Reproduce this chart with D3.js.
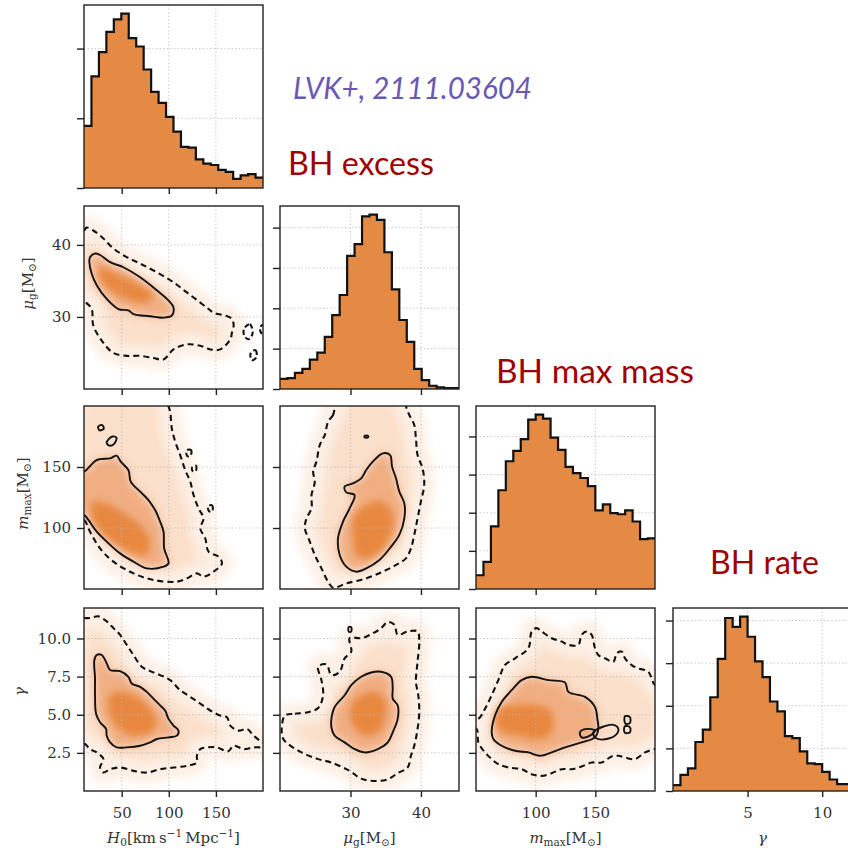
<!DOCTYPE html>
<html>
<head>
<meta charset="utf-8">
<script src="https://cdn.jsdelivr.net/npm/d3@7"></script>
<style>
body { margin: 0; background: #fff; }
svg { display: block; }
.tick text { font-family: "DejaVu Serif", serif; font-size: 15px; fill: #333; }
.tick line { stroke: #222; stroke-width: 1.4; }
.lbl { font-family: "DejaVu Serif", serif; font-size: 15px; fill: #333; }
</style>
</head>
<body>
<svg id="chart" width="848" height="848"></svg>
<script>
// axis ranges of the four parameters
var rangeH0 = [10, 200], rangeMu = [20, 45.4], rangeMmax = [50, 200], rangeGam = [0, 12];
var ticksH0 = [50, 100, 150], ticksMu = [30, 40], ticksMmax = [100, 150];
var ticksGamX = [5, 10], ticksGamY = [2.5, 5, 7.5, 10];

// 1D histograms, 24 bins over each range
var histH0 = [0.89,1.60,1.95,2.24,2.42,2.50,2.15,2.03,1.70,1.38,1.22,1.02,0.81,0.59,0.58,0.41,0.35,0.33,0.26,0.23,0.13,0.18,0.20,0.15];
var histMu = [0.25,0.27,0.40,0.50,0.73,0.90,1.29,1.83,2.33,3.30,3.59,4.28,4.32,4.19,3.39,2.47,1.71,1.17,0.50,0.22,0.08,0.04,0.02,0.02];
var histMmax = [0.36,0.71,1.64,2.59,3.35,3.62,3.93,4.44,4.57,4.47,3.97,3.65,3.20,3.04,2.91,2.70,2.06,2.22,1.99,1.96,2.06,1.77,1.31,1.33];
var histGam = [0.14,0.38,0.53,1.15,1.44,2.20,3.10,4.06,3.85,4.09,3.62,3.04,2.67,2.10,1.87,1.29,1.24,0.93,0.65,0.63,0.45,0.27,0.16,0.16];
var histTicks = [[0, 1, 2], [0, 1, 2, 3, 4], [0, 1, 2, 3, 4], [0, 1, 2, 3, 4]];

// contours in data units: solid = inner level, dash = outer level, core = densest patch
var solidH0Mu = [[16.4,38.3],[21.7,38.8],[27.0,38.6],[37.7,37.6],[51.8,36.9],[69.6,35.5],[87.3,33.7],[99.7,32.3],[105.0,31.3],[103.2,30.2],[94.4,29.9],[80.2,30.1],[62.5,30.4],[57.1,30.9],[46.5,31.1],[34.1,32.5],[23.5,34.4],[18.2,36.0],[15.7,37.6]];
var dashH0Mu = [[4,42.0],[10,42.0],[12.8,42.4],[19.9,42.0],[30.6,40.9],[41.2,39.5],[55.4,38.3],[69.6,37.4],[87.3,36.2],[105,34.8],[119.2,33.4],[133.4,32.0],[142.2,31.1],[147.5,30.6],[165.3,29.9],[168.8,29.0],[167.0,27.8],[165.3,26.9],[154.6,25.5],[144,25.5],[133.4,26.0],[119.2,26.2],[105,25.5],[94.4,24.1],[83.7,24.3],[69.6,24.6],[55.4,24.6],[41.2,25.0],[30.6,26.4],[19.9,28.8],[18.2,31.1],[12.8,31.9],[10,32.0],[4,32.0]];
var coreH0Mu = [[27.0,36.9],[44.7,36.0],[69.6,34.4],[83.7,33.0],[76.6,32.0],[55.4,32.5],[37.7,33.7],[27.0,35.3]];
var dashIslH0Mu = [[[180,28.4],[186,29.0],[189,27.8],[185,26.9],[180,27.4]], [[187,25.0],[192,25.4],[193,24.4],[188,24.0]], [[197,28.6],[203,29.0],[203,27.4],[198,27.8]]];

var solidH0Mmax = [[4,146.2],[10,146.2],[23.5,155.7],[37.7,157.1],[44.7,159.3],[49.0,154.4],[57.1,147.5],[59.6,138.0],[69.6,129.8],[78.4,122.9],[85.5,114.7],[90.8,105.2],[94.4,97.0],[95.1,83.3],[99.7,71.0],[94.4,68.3],[76.6,66.9],[62.5,72.4],[48.3,79.2],[34.1,88.8],[23.5,97.0],[14.6,106.6],[10,110.7],[4,110.7]];
var dashH0Mmax = [[4,106.6],[10,106.6],[16.4,97.0],[27.0,83.3],[41.2,72.4],[62.5,62.8],[83.7,57.4],[108.6,56.0],[119.2,58.7],[129.8,62.8],[136.9,60.1],[147.5,64.2],[156.4,71.0],[152.8,76.5],[142.2,80.6],[138.7,91.5],[133.4,99.7],[136.9,107.9],[131.6,116.1],[126.3,127.0],[122.8,138.0],[117.4,147.5],[112.1,159.8],[106.8,170.8],[103.2,181.7],[101.5,195.3],[99.7,200],[99,208],[4,208]];
var coreH0Mmax = [[19.9,121.6],[37.7,118.8],[55.4,110.7],[73.1,99.7],[80.2,88.8],[76.6,77.9],[62.5,79.2],[44.7,86.1],[27.0,97.0],[18.2,107.9]];
var solidIslH0Mmax = [[[25,183],[29,184.5],[31,181.5],[26.5,180]], [[34,170],[40,175],[44.5,174],[42,169],[37,167.5]]];
var dashIslH0Mmax = [[[119,163.5],[123.5,164],[123,159],[119.5,159]], [[125,150],[129,151],[128.5,146.5],[125,147]], [[142,118],[146,118.5],[146,113.5],[142.5,114]]];

var solidMuMmax = [[28.47,77.9],[28.23,91.5],[28.94,105.2],[29.88,116.1],[30.58,127.0],[29.41,129.2],[29.17,133.9],[30.35,136.6],[31.52,140.7],[32.23,147.5],[33.17,154.4],[34.58,161.2],[35.62,159.8],[35.90,150.3],[36.46,140.7],[36.93,129.8],[37.64,120.2],[37.64,107.9],[36.93,94.3],[35.76,84.7],[34.11,73.8],[32.23,66.9],[30.82,64.2],[29.41,68.3]];
var dashMuMmax = [[27.76,200],[27.53,192.6],[26.82,187.1],[26.35,176.2],[25.64,168.0],[25.17,154.4],[24.70,146.2],[24.94,138.0],[24.47,127.0],[24.47,116.1],[23.76,107.9],[23.53,99.7],[24.23,88.8],[24.94,77.9],[25.88,66.9],[26.82,56.0],[27.53,51.1],[29.41,54.6],[32.23,58.7],[34.58,64.2],[36.46,69.7],[37.87,75.1],[38.58,83.3],[39.05,94.3],[39.52,107.9],[39.99,121.6],[40.46,135.2],[40.23,148.9],[39.52,159.8],[39.29,173.5],[39.05,184.4],[38.35,192.6],[37.88,200],[37.9,208],[27.7,208]];
var coreMuMmax = [[30.35,107.9],[32.23,118.8],[34.58,121.6],[35.99,110.7],[35.76,94.3],[34.11,80.6],[32.23,75.1],[30.82,77.9],[30.35,91.5]];
var solidIslMuMmax = [[[32.0,175.5],[32.5,175.5],[32.5,174.3],[32.0,174.3]]];

var solidH0Gam = [[23.5,8.92],[28.8,8.92],[34.1,8.37],[37.7,7.93],[48.3,7.86],[57.1,7.49],[60.7,7.05],[69.6,6.83],[76.6,6.50],[83.7,6.06],[90.8,5.62],[96.1,5.28],[99.7,4.73],[105.0,4.29],[110.3,3.96],[108.6,3.63],[99.7,3.52],[87.3,3.41],[80.2,3.19],[69.6,2.97],[55.4,2.86],[44.7,2.86],[37.7,3.19],[34.1,3.63],[33.4,4.07],[27.0,4.51],[22.8,5.07],[21.7,6.28],[21.7,7.38],[21.0,8.59]];
var dashH0Gam = [[4,11.34],[10,11.34],[16.4,11.34],[25.2,11.45],[34.1,11.12],[41.2,10.68],[48.3,10.24],[55.4,9.58],[62.5,8.92],[71.3,8.15],[80.2,7.86],[90.8,7.60],[101.5,7.27],[112.1,6.61],[122.8,6.17],[133.4,5.73],[144.0,5.28],[154.6,4.95],[161.7,4.84],[165.3,4.29],[174.1,3.96],[183.0,4.07],[190.1,3.63],[200,3.19],[206,3.19],[206,2.86],[200,2.86],[190.1,2.86],[179.5,2.75],[168.8,2.97],[163,2.6],[151.1,2.86],[140.4,2.86],[133.4,2.75],[129.8,2.31],[129.8,1.87],[119.2,1.65],[105.0,1.54],[90.8,1.43],[76.6,1.21],[62.5,1.32],[48.3,1.54],[37.7,1.43],[30.6,1.21],[27.0,1.54],[30.6,2.09],[23.5,2.53],[16.4,2.75],[11.1,3.08],[10,3.08],[4,3.08]];
var coreH0Gam = [[37.7,6.28],[51.8,6.50],[66.0,6.17],[80.2,5.39],[87.3,4.51],[80.2,3.85],[66.0,3.63],[51.8,3.85],[41.2,4.51],[35.9,5.39]];

var solidMuGam = [[27.29,4.73],[27.76,5.51],[29.17,6.28],[30.11,6.94],[31.52,7.49],[32.94,7.77],[34.35,7.82],[35.76,7.49],[35.99,6.72],[35.99,6.06],[36.70,5.62],[36.70,4.73],[35.99,3.85],[35.29,3.19],[33.88,2.75],[32.0,2.53],[30.58,2.75],[29.17,3.19],[27.76,3.63],[27.29,4.18]];
var dashMuGam = [[20.71,4.95],[22.12,5.06],[24.0,5.17],[25.41,5.44],[26.12,6.28],[25.88,7.27],[25.41,8.15],[26.59,8.30],[27.29,7.60],[28.47,7.82],[29.17,8.70],[30.11,9.14],[29.88,10.02],[31.52,10.02],[32.94,10.28],[34.35,10.68],[35.29,11.08],[36.23,10.90],[36.70,10.24],[38.11,10.46],[39.52,10.46],[39.76,9.80],[39.52,8.48],[39.29,7.16],[39.62,6.28],[39.76,5.17],[39.52,4.07],[39.05,2.97],[38.58,2.31],[38.11,1.54],[36.70,1.17],[35.29,0.77],[33.41,0.66],[31.52,0.81],[29.88,1.32],[27.29,1.87],[25.41,2.09],[23.06,2.53],[21.18,3.08],[20.47,3.41],[20.24,4.07]];
var coreMuGam = [[30.11,5.62],[31.52,6.28],[33.41,6.50],[34.82,6.06],[35.05,5.17],[34.35,4.07],[32.94,3.63],[31.52,3.74],[30.35,4.29],[29.88,4.95]];
var solidIslMuGam = [[[29.75,10.75],[30.1,10.75],[30.1,10.45],[29.75,10.45]]];

var solidMmaxGam = [[63.13,3.85],[65.92,4.95],[71.51,5.84],[79.89,6.61],[88.26,7.27],[96.64,7.49],[110.6,7.27],[124.6,7.11],[127.4,6.50],[141.3,6.17],[149.7,5.51],[151.7,4.73],[152.5,4.07],[149.7,3.52],[138.5,3.19],[124.6,2.86],[113.4,2.53],[103.6,2.31],[93.85,2.53],[82.68,2.64],[71.51,2.97],[64.52,3.41]];
var dashMmaxGam = [[45,4.73],[51.96,4.73],[57.54,5.39],[63.13,6.28],[68.71,7.27],[74.30,8.26],[82.68,8.70],[93.85,9.36],[96.64,10.46],[100.8,10.68],[105.0,10.46],[113.4,10.02],[121.8,9.80],[127.4,9.58],[135.7,9.58],[138.5,10.24],[142.7,10.46],[146.9,10.24],[149.7,9.36],[152.5,8.92],[158.1,8.70],[165.1,8.48],[167.9,9.03],[172.1,9.14],[174.9,8.70],[180.4,8.26],[186.0,8.04],[194.4,7.82],[200,6.94],[206,6.94],[206,2.75],[200,2.75],[191.6,2.53],[183.2,2.09],[174.9,2.20],[169.3,2.31],[163.7,2.27],[155.3,1.87],[146.9,1.87],[138.5,1.61],[130.2,1.43],[121.8,1.43],[113.4,1.17],[105.0,0.99],[96.64,1.10],[88.26,1.43],[77.09,1.54],[68.71,1.76],[63.13,2.09],[57.54,2.53],[51.96,3.19],[50.56,4.07],[45,4.07]];
var coreMmaxGam = [[68.71,5.39],[82.68,5.62],[102.2,5.62],[113.4,5.17],[113.4,3.85],[105.0,3.41],[85.47,3.63],[71.51,3.85],[65.92,4.51]];
var solidIslMmaxGam = [[[148.3,3.85],[155.3,4.18],[165.1,4.34],[169.3,4.07],[166.5,3.63],[155.3,3.37],[149.7,3.52]], [[137.1,3.85],[142.7,4.07],[149.7,3.96],[145.5,3.63],[138.5,3.52]], [[174.9,4.91],[179.0,4.84],[179.0,4.47],[175.5,4.40],[174.3,4.69]], [[174.9,4.25],[179.0,4.18],[179.0,3.85],[174.9,3.81],[174.0,4.03]]];

// layout
var colX = [84, 280, 476, 673], rowY = [5, 206, 406, 608], W = 179, H = 183;
var orange = "#e48a45";

var ranges = [rangeH0, rangeMu, rangeMmax, rangeGam];
var hists = [histH0, histMu, histMmax, histGam];
var xTicks = [ticksH0, ticksMu, ticksMmax, ticksGamX];
var yTicks = [ticksH0, ticksMu, ticksMmax, ticksGamY];
var yFormats = [null, d3.format("d"), d3.format("d"), d3.format(".1f")];

var pairs = [
  {j: 0, i: 1, solid: solidH0Mu, dash: dashH0Mu, core: coreH0Mu, sIsl: [], dIsl: dashIslH0Mu},
  {j: 0, i: 2, solid: solidH0Mmax, dash: dashH0Mmax, core: coreH0Mmax, sIsl: solidIslH0Mmax, dIsl: dashIslH0Mmax},
  {j: 1, i: 2, solid: solidMuMmax, dash: dashMuMmax, core: coreMuMmax, sIsl: solidIslMuMmax, dIsl: []},
  {j: 0, i: 3, solid: solidH0Gam, dash: dashH0Gam, core: coreH0Gam, sIsl: [], dIsl: []},
  {j: 1, i: 3, solid: solidMuGam, dash: dashMuGam, core: coreMuGam, sIsl: solidIslMuGam, dIsl: []},
  {j: 2, i: 3, solid: solidMmaxGam, dash: dashMmaxGam, core: coreMmaxGam, sIsl: solidIslMmaxGam, dIsl: []}
];

var svg = d3.select("#chart");
var defs = svg.append("defs");
defs.append("filter").attr("id", "soft").attr("x", "-30%").attr("y", "-30%").attr("width", "160%").attr("height", "160%")
  .append("feGaussianBlur").attr("stdDeviation", 5);
defs.append("filter").attr("id", "soft2").attr("x", "-30%").attr("y", "-30%").attr("width", "160%").attr("height", "160%")
  .append("feGaussianBlur").attr("stdDeviation", 3.5);

function xScale(j) {
  return d3.scaleLinear().domain(ranges[j]).range([colX[j], colX[j] + W]);
}
function yScale(i) {
  return d3.scaleLinear().domain(ranges[i]).range([rowY[i] + H, rowY[i]]);
}

function clipFor(i, j) {
  var id = "clip" + i + j;
  defs.append("clipPath").attr("id", id).append("rect")
    .attr("x", colX[j]).attr("y", rowY[i]).attr("width", W).attr("height", H);
  return "url(#" + id + ")";
}

function grid(g, x, y, xt, yt, i, j) {
  g.selectAll(".gv").data(xt).enter().append("line")
    .attr("x1", d => x(d)).attr("x2", d => x(d)).attr("y1", rowY[i]).attr("y2", rowY[i] + H)
    .attr("stroke", "#b8b8b8").attr("stroke-width", 0.9).attr("stroke-dasharray", "1.2,2.4");
  g.selectAll(".gh").data(yt).enter().append("line")
    .attr("y1", d => y(d)).attr("y2", d => y(d)).attr("x1", colX[j]).attr("x2", colX[j] + W)
    .attr("stroke", "#b8b8b8").attr("stroke-width", 0.9).attr("stroke-dasharray", "1.2,2.4");
}

function axes(i, j, x, y, yt, yFmt) {
  var gx = svg.append("g").attr("transform", "translate(0," + (rowY[i] + H) + ")")
    .call(d3.axisBottom(x).tickValues(xTicks[j]).tickSize(6).tickPadding(10)
      .tickFormat(i === 3 ? d3.format("d") : ""));
  gx.select(".domain").remove();
  var gy = svg.append("g").attr("transform", "translate(" + colX[j] + ",0)")
    .call(d3.axisLeft(y).tickValues(yt).tickSize(7).tickPadding(6)
      .tickFormat(j === 0 && yFmt ? yFmt : ""));
  gy.select(".domain").remove();
  svg.append("rect").attr("x", colX[j]).attr("y", rowY[i]).attr("width", W).attr("height", H)
    .attr("fill", "none").attr("stroke", "#222").attr("stroke-width", 1.4);
}

// diagonal histograms
hists.forEach(function (hist, k) {
  var x = xScale(k);
  var top = d3.max(hist) * 1.05;
  var y = d3.scaleLinear().domain([0, top]).range([rowY[k] + H, rowY[k]]);
  var r = ranges[k], step = (r[1] - r[0]) / hist.length;
  var pts = hist.map((v, b) => [r[0] + b * step, v]);
  pts.push([r[1], hist[hist.length - 1]]);
  var g = svg.append("g").attr("clip-path", clipFor(k, k));
  grid(g, x, y, xTicks[k], histTicks[k].slice(1), k, k);
  g.append("path").datum(pts)
    .attr("d", d3.area().curve(d3.curveStepAfter).x(d => x(d[0])).y0(y(0)).y1(d => y(d[1])))
    .attr("fill", orange);
  g.append("path").datum(pts)
    .attr("d", d3.line().curve(d3.curveStepAfter).x(d => x(d[0])).y(d => y(d[1])))
    .attr("fill", "none").attr("stroke", "#111").attr("stroke-width", 2.2);
  axes(k, k, x, y, histTicks[k], null);
});

// 2D panels
pairs.forEach(function (p) {
  var x = xScale(p.j), y = yScale(p.i);
  var loop = d3.line().x(d => x(d[0])).y(d => y(d[1])).curve(d3.curveCatmullRomClosed.alpha(0.5));
  var g = svg.append("g").attr("clip-path", clipFor(p.i, p.j));
  var soft = g.append("g").attr("filter", "url(#soft)");
  soft.append("path").attr("d", loop(p.dash)).attr("fill", "#fbe0cb")
    .attr("stroke", "#fdf0e5").attr("stroke-width", 22).attr("stroke-linejoin", "round");
  soft.append("path").attr("d", loop(p.solid)).attr("fill", "#f1ae82");
  g.append("g").attr("filter", "url(#soft2)")
    .append("path").attr("d", loop(p.core)).attr("fill", "#e8883f");
  grid(g, x, y, xTicks[p.j], yTicks[p.i], p.i, p.j);
  g.append("path").attr("d", loop(p.dash)).attr("fill", "none")
    .attr("stroke", "#111").attr("stroke-width", 2.1).attr("stroke-dasharray", "6,4");
  p.dIsl.forEach(function (isl) {
    g.append("path").attr("d", loop(isl)).attr("fill", "none")
      .attr("stroke", "#111").attr("stroke-width", 2.1).attr("stroke-dasharray", "5,3");
  });
  g.append("path").attr("d", loop(p.solid)).attr("fill", "none")
    .attr("stroke", "#111").attr("stroke-width", 1.9);
  p.sIsl.forEach(function (isl) {
    g.append("path").attr("d", loop(isl)).attr("fill", "none")
      .attr("stroke", "#111").attr("stroke-width", 1.9);
  });
  axes(p.i, p.j, x, y, yTicks[p.i], yFormats[p.i]);
});

// axis labels with sub/superscripts
function label(parts, px, py, rotate) {
  var t = svg.append("text").attr("class", "lbl").attr("text-anchor", "middle")
    .attr("transform", "translate(" + px + "," + py + ")" + (rotate ? " rotate(-90)" : ""));
  parts.forEach(function (s) {
    var ts = t.append("tspan").text(s[0]);
    if (s[1] === "i") ts.attr("font-style", "italic");
    if (s[1] === "sub") ts.attr("font-size", "10.5px").attr("baseline-shift", "-3px");
    if (s[1] === "sup") ts.attr("font-size", "10.5px").attr("baseline-shift", "6px");
  });
}
var labH0 = [["H", "i"], ["0", "sub"], ["[km\u2009s"], ["\u22121", "sup"], ["\u2009Mpc"], ["\u22121", "sup"], ["]"]];
var labMu = [["\u03bc", "i"], ["g", "sub"], ["[M"], ["\u2299", "sub"], ["]"]];
var labMmax = [["m", "i"], ["max", "sub"], ["[M"], ["\u2299", "sub"], ["]"]];
var labGam = [["\u03b3", "i"]];

label(labH0, colX[0] + W / 2, 843, false);
label(labMu, colX[1] + W / 2, 843, false);
label(labMmax, colX[2] + W / 2, 843, false);
label(labGam, colX[3] + W / 2, 843, false);
label(labMu, 33, rowY[1] + H / 2 - 14, true);
label(labMmax, 28, rowY[2] + H / 2 - 4, true);
label(labGam, 25, rowY[3] + H / 2 - 8, true);

// annotations
svg.append("text").attr("x", 293).attr("y", 99).text("LVK+, 2111.03604")
  .attr("font-family", "Lato, 'Open Sans', sans-serif").attr("font-style", "italic")
  .attr("font-size", 30).attr("fill", "#6a58b4")
  .attr("textLength", 239).attr("lengthAdjust", "spacingAndGlyphs");
var notes = [["BH excess", 288, 175, 146], ["BH max mass", 496, 383, 198], ["BH rate", 710, 574, 109]];
notes.forEach(function (n) {
  svg.append("text").attr("x", n[1]).attr("y", n[2]).text(n[0])
    .attr("font-family", "Lato, 'Open Sans', sans-serif").attr("font-size", 33).attr("fill", "#a00000")
    .attr("textLength", n[3]).attr("lengthAdjust", "spacingAndGlyphs");
});
</script>
</body>
</html>
